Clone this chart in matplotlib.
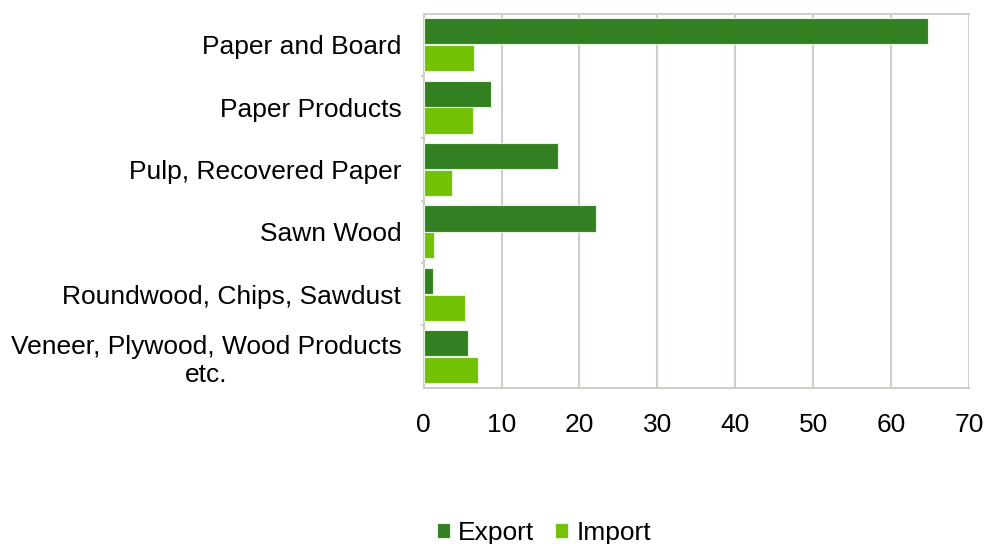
import numpy as np
import matplotlib.pyplot as plt

plt.rcParams['font.family'] = ['Liberation Sans', 'DejaVu Sans']

categories = ['Paper and Board', 'Paper Products', 'Pulp, Recovered Paper',
              'Sawn Wood', 'Roundwood, Chips, Sawdust',
              'Veneer, Plywood, Wood Products\netc.']
export = [64.7, 8.6, 17.3, 22.1, 1.2, 5.7]
imports = [6.5, 6.4, 3.7, 1.3, 5.3, 7.0]
xticks = [0, 10, 20, 30, 40, 50, 60, 70]

export_color = '#338022'
import_color = '#72c105'
grid_color = '#cfcfc8'

fig = plt.figure(figsize=(9.85, 5.44), dpi=100)
ax = fig.add_axes([0.430, 0.287, 0.554, 0.688])

y = np.arange(len(categories))
h = 0.42
ax.barh(y - h / 2 - 0.005, export, height=h, color=export_color,
        edgecolor='#e8f2e0', linewidth=0.8, label='Export', zorder=3)
ax.barh(y + h / 2 + 0.005, imports, height=h, color=import_color,
        edgecolor='#e8f2e0', linewidth=0.8, label='Import', zorder=3)

ax.set_xlim(0, 70)
ax.set_ylim(len(categories) - 0.5, -0.5)
ax.set_xticks(xticks)
ax.set_xticklabels([str(t) for t in xticks], fontsize=19)
ax.set_yticks(y)
ax.set_yticklabels(categories, fontsize=19, multialignment='center')
ax.tick_params(axis='x', length=0, pad=18)
ax.tick_params(axis='y', length=0, pad=16)

ax.grid(axis='x', color=grid_color, linewidth=1.5, zorder=0)
for side in ['left', 'bottom', 'top']:
    ax.spines[side].set_color(grid_color)
    ax.spines[side].set_linewidth(1.5)
ax.spines['right'].set_visible(False)

# small separators on the left axis between categories
for b in np.arange(0.5, len(categories) - 1, 1.0):
    ax.plot([-0.25, 0], [b, b], color=grid_color, lw=1.5, clip_on=False)

handles, labels = ax.get_legend_handles_labels()
fig.legend(handles, labels, loc='lower center', bbox_to_anchor=(0.552, -0.045),
           ncol=2, frameon=False, fontsize=19, handlelength=0.5,
           handleheight=0.5, handletextpad=0.3, columnspacing=0.8)

fig.savefig('out.png', dpi=100, facecolor='white')
